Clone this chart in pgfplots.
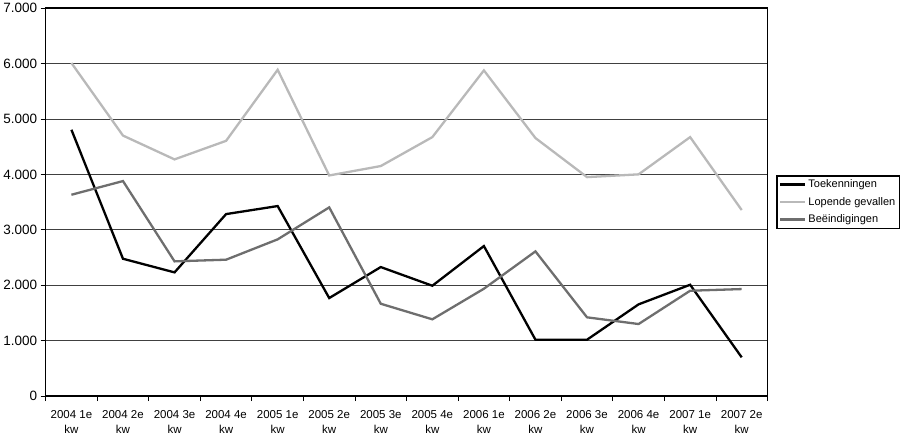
\documentclass[border=0pt]{standalone}
\usepackage{pgfplots}
\pgfplotsset{compat=1.18}
\usepackage{fontspec}
\setmainfont{Liberation Sans}
\definecolor{lopende}{RGB}{185,185,185}
\definecolor{beeind}{RGB}{110,110,110}
\begin{document}
\begin{tikzpicture}
\begin{axis}[
  scale only axis,
  width=722pt, height=388pt,
  xmin=-0.5, xmax=13.5,
  ymin=0, ymax=7000,
  tick pos=left,
  tick align=outside,
  xtick={0,...,13},
  xticklabels={2004 1e\\kw,2004 2e\\kw,2004 3e\\kw,2004 4e\\kw,2005 1e\\kw,2005 2e\\kw,2005 3e\\kw,2005 4e\\kw,2006 1e\\kw,2006 2e\\kw,2006 3e\\kw,2006 4e\\kw,2007 1e\\kw,2007 2e\\kw},
  xticklabel style={align=center, font=\fontsize{11.5}{15}\selectfont, yshift=-6pt},
  xtick style={draw=none},
  extra x ticks={-0.5,0.5,...,13.5},
  extra x tick labels={},
  extra x tick style={xtick style={draw=black, line width=0.8pt}, major tick length=5pt, tick pos=left, tick align=outside},
  ytick={0,1000,...,7000},
  yticklabel style={font=\fontsize{13.5}{16}\selectfont},
  major tick length=5pt,
  ytick style={line width=0.8pt, black},
  ymajorgrids,
  grid style={black!75, line width=0.8pt},
  axis line style={line width=1.6pt},
  /pgf/number format/assume math mode=true,
  /pgf/number format/1000 sep={.},
  scaled y ticks=false,
  clip=false,
  legend style={at={(1,0.5)}, xshift=9pt, anchor=west, draw=black, line width=1.4pt,
    font=\fontsize{11}{13}\selectfont, inner sep=2pt, row sep=4pt,
    legend cell align=left},
  legend image code/.code={\draw[#1] (0pt,0pt) -- (25pt,0pt);},
]
\addplot[black, line width=2.3pt] coordinates {
(0,4805) (1,2477) (2,2231) (3,3283) (4,3428) (5,1768) (6,2327) (7,1990) (8,2706) (9,1016) (10,1016) (11,1654) (12,2008) (13,698)};
\addlegendentry{Toekenningen}
\addplot[lopende, line width=2.3pt] coordinates {
(0,6010) (1,4700) (2,4270) (3,4605) (4,5887) (5,3980) (6,4150) (7,4672) (8,5876) (9,4655) (10,3950) (11,4000) (12,4672) (13,3356)};
\addlegendentry{Lopende gevallen}
\addplot[beeind, line width=2.3pt] coordinates {
(0,3632) (1,3879) (2,2430) (3,2460) (4,2827) (5,3404) (6,1665) (7,1384) (8,1936) (9,2610) (10,1420) (11,1299) (12,1900) (13,1930)};
\addlegendentry{Beëindigingen}
\end{axis}
\end{tikzpicture}
\end{document}
